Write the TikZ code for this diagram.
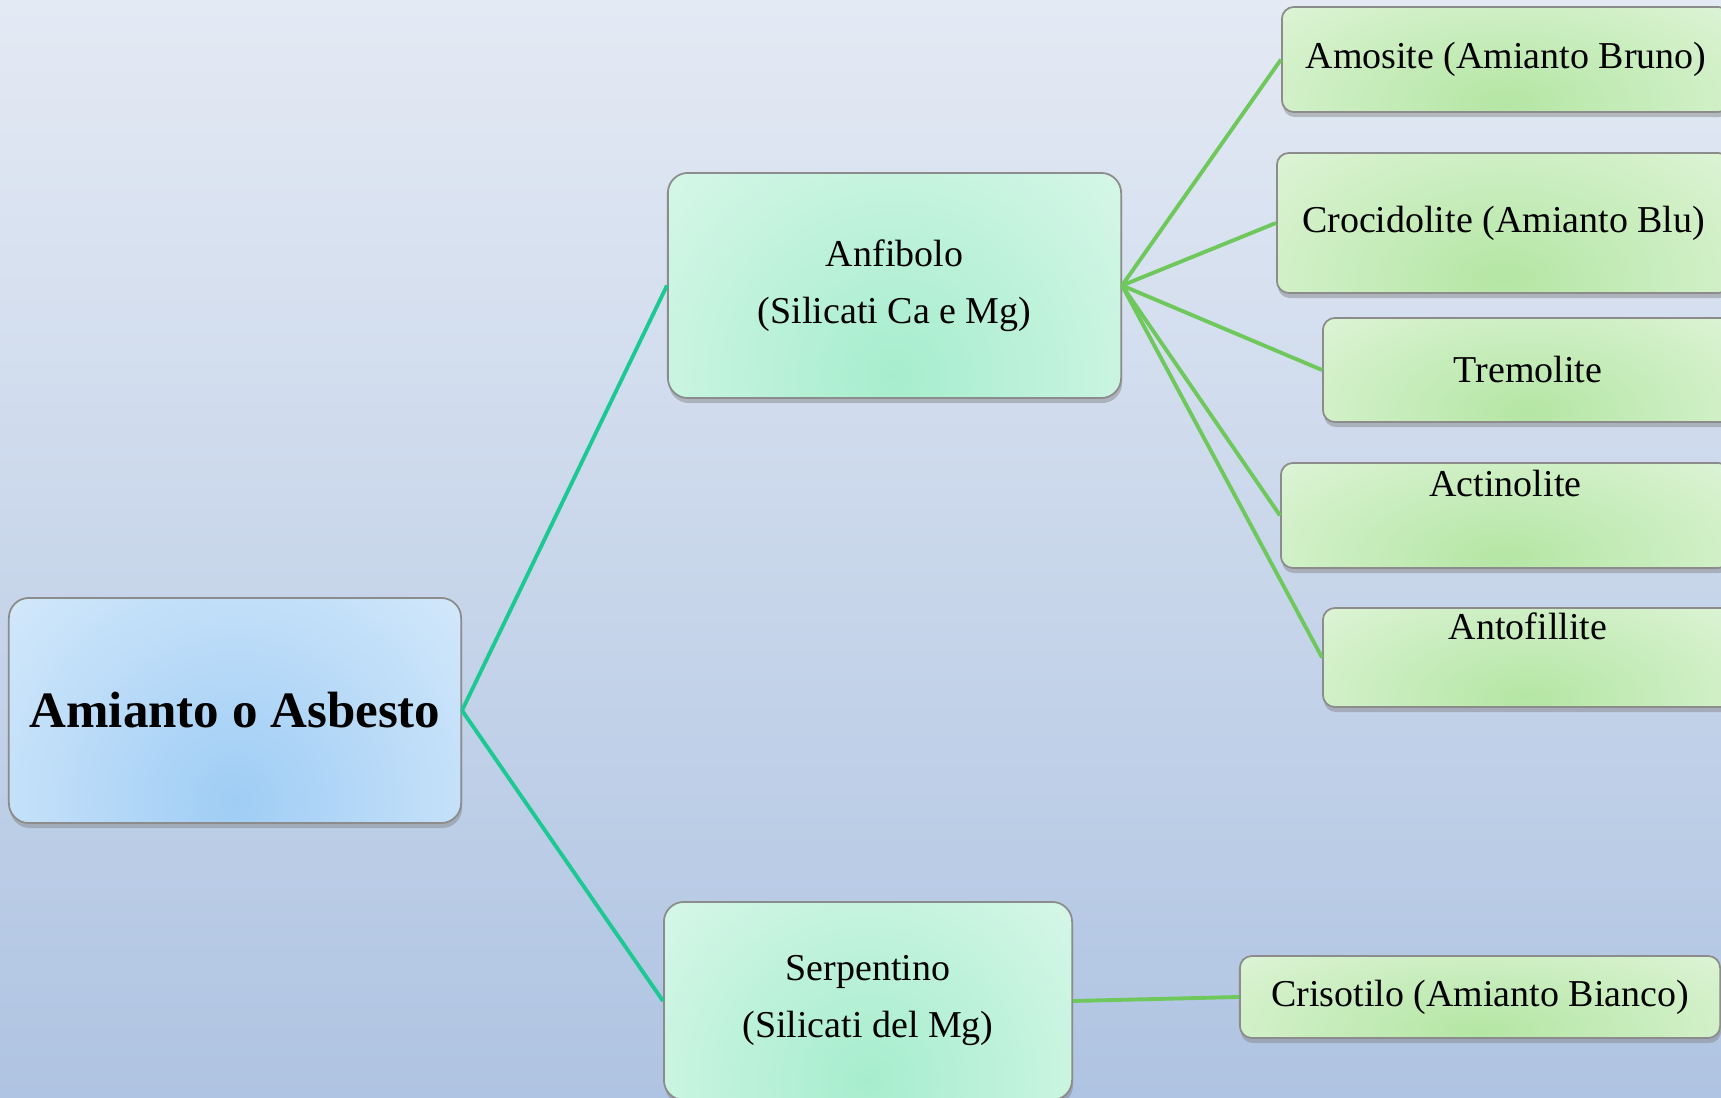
\documentclass[tikz,border=0pt]{standalone}
\usepackage{fontspec}
\setmainfont{Liberation Serif}
\usetikzlibrary{calc,shadows}

\definecolor{bgtop}{HTML}{E4EAF4}
\definecolor{bgbot}{HTML}{AFC4E2}
\definecolor{rootblue}{HTML}{9FCDF5}
\definecolor{mint}{HTML}{A6EDCD}
\definecolor{leafgreen}{HTML}{B4E6A4}
\definecolor{tealline}{HTML}{1DC993}
\definecolor{greenline}{HTML}{6EC85B}

\tikzset{
  glow/.style={path picture={
      \shade[inner color=#1, outer color=white!80!#1]
        let \p1=(path picture bounding box.south west),
            \p2=(path picture bounding box.north east) in
        ({1.5*\x1-0.5*\x2},{\y1-1.9*(\y2-\y1)}) rectangle
        ({1.5*\x2-0.5*\x1},{\y1+2.1*(\y2-\y1)});}},
  box/.style={draw=black!45, line width=0.5pt, rounded corners=0.12cm,
    fill=white, glow=#1, inner sep=0pt, align=center,
    font=\fontsize{10.8}{16.2}\selectfont,
    drop shadow={shadow xshift=0.01cm, shadow yshift=-0.05cm, opacity=0.45}},
  tealln/.style={draw=tealline, line width=1.1pt},
  greenln/.style={draw=greenline, line width=1.1pt}
}

\begin{document}
\begin{tikzpicture}[x=0.01cm, y=-0.01cm]
  \clip (0,0) rectangle (1721,1098);
  \shade[top color=bgtop, bottom color=bgbot] (0,0) rectangle (1721,1098);

  % main node
  \node (root) [box=rootblue, rounded corners=0.2cm, minimum width=4.52cm, minimum height=2.25cm,
    font=\bfseries\fontsize{14.5}{17}\selectfont] at (235,710.5) {Amianto o Asbesto};

  % the two groups
  \node (anf) [box=mint, rounded corners=0.2cm, minimum width=4.53cm, minimum height=2.25cm]
    at (894.5,285.5) {Anfibolo\\(Silicati Ca e Mg)};
  \node (serp) [box=mint, rounded corners=0.2cm, minimum width=4.08cm, minimum height=1.98cm]
    at (868,1001) {Serpentino\\(Silicati del Mg)};

  % minerals
  \node (amos) [box=leafgreen, minimum width=4.48cm, minimum height=1.05cm]
    at (1506,59.5) {Amosite (Amianto Bruno)};
  \node (croc) [box=leafgreen, minimum width=4.53cm, minimum height=1.40cm]
    at (1503.5,223) {Crocidolite (Amianto Blu)};
  \node (trem) [box=leafgreen, minimum width=4.10cm, minimum height=1.04cm]
    at (1528,370) {Tremolite};
  \node (actin) [box=leafgreen, minimum width=4.49cm, text height=0.34cm, text depth=0.71cm]
    at (1505.5,515.5) {Actinolite};
  \node (antof) [box=leafgreen, minimum width=4.10cm, text height=0.32cm, text depth=0.67cm]
    at (1528,657.5) {Antofillite};
  \node (cris) [box=leafgreen, minimum width=4.80cm, minimum height=0.82cm]
    at (1480,997) {Crisotilo (Amianto Bianco)};

  \draw [tealln] (root.east) -- (anf.west);
  \draw [tealln] (root.east) -- (serp.west);

  \foreach \leaf in {amos,croc,trem,actin,antof}
    \draw [greenln] (anf.east) -- (\leaf.west);
  \draw [greenln] (serp.east) -- (cris.west);
\end{tikzpicture}
\end{document}
